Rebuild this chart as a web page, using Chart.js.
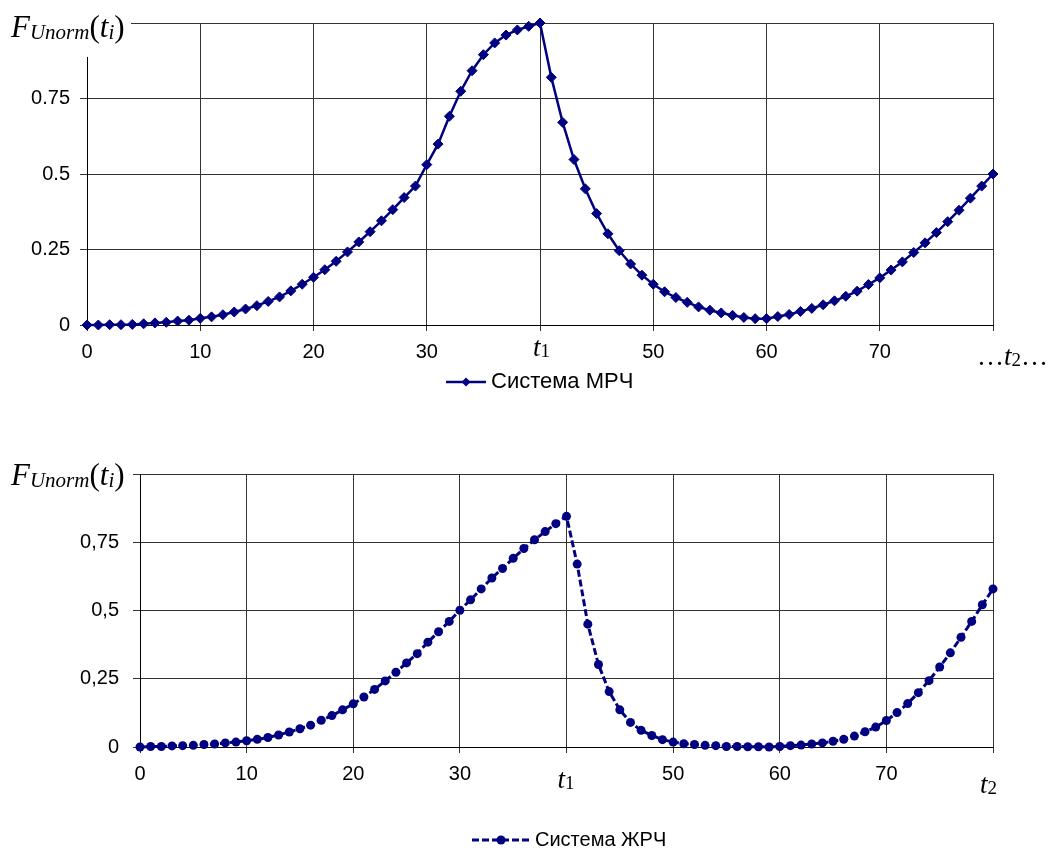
<!DOCTYPE html>
<html>
<head>
<meta charset="utf-8">
<script src="https://cdn.jsdelivr.net/npm/chart.js@4/dist/chart.umd.min.js"></script>
<style>
  body { margin: 0; background: #fff; }
  canvas { display: block; }
</style>
</head>
<body>
<canvas id="chartMrch" width="1054" height="425"></canvas>
<canvas id="chartZhrch" width="1054" height="425"></canvas>
<script>
// time steps (x categories)
const timeSteps = [
  0, 1, 2, 3, 4, 5, 6, 7, 8, 9, 10, 11, 12, 13, 14, 15, 16, 17, 18, 19, 20,
  21, 22, 23, 24, 25, 26, 27, 28, 29, 30, 31, 32, 33, 34, 35, 36, 37, 38, 39, 40,
  41, 42, 43, 44, 45, 46, 47, 48, 49, 50, 51, 52, 53, 54, 55, 56, 57, 58, 59, 60,
  61, 62, 63, 64, 65, 66, 67, 68, 69, 70, 71, 72, 73, 74, 75, 76, 77, 78, 79, 80
];

// Система МРЧ
const mrchValues = [
  0, 0, 0.001, 0.001, 0.002, 0.004, 0.007, 0.009, 0.013, 0.016, 0.022,
  0.027, 0.034, 0.043, 0.053, 0.064, 0.078, 0.093, 0.113, 0.135, 0.158,
  0.183, 0.211, 0.242, 0.275, 0.309, 0.345, 0.382, 0.422, 0.460, 0.531,
  0.599, 0.691, 0.774, 0.842, 0.895, 0.934, 0.960, 0.977, 0.989, 1.0,
  0.820, 0.671, 0.548, 0.451, 0.369, 0.302, 0.246, 0.202, 0.165, 0.135,
  0.110, 0.091, 0.075, 0.060, 0.049, 0.040, 0.032, 0.025, 0.021, 0.021,
  0.028, 0.035, 0.045, 0.055, 0.067, 0.080, 0.095, 0.112, 0.134, 0.156,
  0.182, 0.209, 0.240, 0.272, 0.306, 0.342, 0.380, 0.420, 0.460, 0.500
];

// Система ЖРЧ
const zhrchValues = [
  0, 0.002, 0.002, 0.004, 0.005, 0.006, 0.009, 0.011, 0.015, 0.018, 0.023,
  0.028, 0.035, 0.044, 0.055, 0.067, 0.080, 0.098, 0.115, 0.136, 0.158,
  0.183, 0.211, 0.242, 0.274, 0.308, 0.342, 0.384, 0.422, 0.460, 0.501,
  0.539, 0.579, 0.619, 0.654, 0.691, 0.727, 0.759, 0.789, 0.818, 0.845,
  0.670, 0.450, 0.302, 0.203, 0.136, 0.090, 0.061, 0.042, 0.027, 0.018,
  0.012, 0.009, 0.006, 0.005, 0.002, 0.002, 0.001, 0.001, 0, 0.002,
  0.005, 0.007, 0.011, 0.015, 0.021, 0.028, 0.040, 0.056, 0.073, 0.097,
  0.126, 0.159, 0.199, 0.243, 0.293, 0.345, 0.402, 0.460, 0.521, 0.579
];

// ticks
const xTicks = [0, 10, 20, 30, 40, 50, 60, 70, 80];
const xTickLabels = ['0', '10', '20', '30', '', '50', '60', '70', ''];
const yTicks = [0, 0.25, 0.5, 0.75, 1];
const yLabelsMrch = ['0', '0.25', '0.5', '0.75', ''];
const yLabelsZhrch = ['0', '0,25', '0,5', '0,75', ''];

const NAVY = '#000080';
const GRID = '#333333';
const SERIF = '"Liberation Serif", "Times New Roman", serif';
const SANS = '"Liberation Sans", Arial, sans-serif';

Chart.defaults.font.family = SANS;
Chart.defaults.font.size = 20;
Chart.defaults.color = '#000';

function toPoints(values) {
  return timeSteps.map((t, i) => ({ x: t, y: values[i] }));
}

// F_Unorm(t_i) label, drawn piece by piece
function drawFLabel(ctx, x, base) {
  const big = 'italic 31px ' + SERIF;
  const small = 'italic 21px ' + SERIF;
  const parts = [
    ['F', big, 0], ['Unorm', small, 2], ['(', '31px ' + SERIF, 0],
    ['t', big, 0], ['i', small, 2], [')', '31px ' + SERIF, 0]
  ];
  ctx.fillStyle = '#000';
  ctx.textBaseline = 'alphabetic';
  ctx.textAlign = 'left';
  parts.forEach(([txt, font, dy]) => {
    ctx.font = font;
    ctx.fillText(txt, x, base + dy);
    x += ctx.measureText(txt).width;
  });
}

// t with subscript
function drawT(ctx, x, base, sub, pre, post) {
  ctx.fillStyle = '#000';
  ctx.textBaseline = 'alphabetic';
  ctx.textAlign = 'left';
  if (pre) {
    ctx.font = '27px ' + SERIF;
    ctx.fillText(pre, x, base);
    x += ctx.measureText(pre).width;
  }
  ctx.font = 'italic 27px ' + SERIF;
  ctx.fillText('t', x, base);
  x += ctx.measureText('t').width;
  ctx.font = '19px ' + SERIF;
  ctx.fillText(sub, x, base + 1);
  x += ctx.measureText(sub).width;
  if (post) {
    ctx.font = '27px ' + SERIF;
    ctx.fillText(post, x, base);
  }
}

function makeOptions(yLabels, leftWidth, topPad, bottomPad, yTickPad) {
  return {
    responsive: false,
    animation: false,
    devicePixelRatio: 1,
    layout: { padding: { left: 0, right: 61, top: topPad, bottom: bottomPad } },
    plugins: { legend: { display: false }, tooltip: { enabled: false } },
    scales: {
      x: {
        type: 'linear',
        min: 0,
        max: 80,
        afterFit: (s) => { s.height = 40; },
        afterBuildTicks: (s) => { s.ticks = xTicks.map(v => ({ value: v })); },
        ticks: {
          padding: 9,
          maxRotation: 0,
          autoSkip: false,
          callback: (v) => xTickLabels[xTicks.indexOf(v)] ?? ''
        },
        grid: { color: GRID, lineWidth: 1, tickLength: 6, drawTicks: true },
        border: { color: '#000', width: 1 }
      },
      y: {
        min: 0,
        max: 1,
        afterFit: (s) => { s.width = leftWidth; },
        afterBuildTicks: (s) => { s.ticks = yTicks.map(v => ({ value: v })); },
        ticks: {
          padding: yTickPad,
          callback: (v) => yLabels[yTicks.indexOf(v)] ?? ''
        },
        grid: { color: GRID, lineWidth: 1, tickLength: 7, drawTicks: true },
        border: { color: '#000', width: 1 }
      }
    }
  };
}

const topExtras = {
  id: 'topExtras',
  afterDraw(chart) {
    const ctx = chart.ctx;
    const xs = chart.scales.x;
    ctx.save();
    // label box over the corner
    ctx.fillStyle = '#fff';
    ctx.fillRect(0, 0, 131, 57);
    drawFLabel(ctx, 11, 37);
    drawT(ctx, xs.getPixelForValue(40) - 7, 356, '1');
    drawT(ctx, 977, 365, '2', '\u2026', '\u2026');
    // legend
    ctx.strokeStyle = NAVY;
    ctx.lineWidth = 2.5;
    ctx.beginPath();
    ctx.moveTo(446, 382);
    ctx.lineTo(486, 382);
    ctx.stroke();
    ctx.fillStyle = NAVY;
    ctx.beginPath();
    ctx.moveTo(466, 377.5); ctx.lineTo(470.5, 382); ctx.lineTo(466, 386.5); ctx.lineTo(461.5, 382);
    ctx.closePath();
    ctx.fill();
    ctx.fillStyle = '#000';
    ctx.font = '22px ' + SANS;
    ctx.textBaseline = 'middle';
    ctx.fillText('Система МРЧ', 491, 382);
    ctx.restore();
  }
};

const bottomExtras = {
  id: 'bottomExtras',
  afterDraw(chart) {
    const ctx = chart.ctx;
    const xs = chart.scales.x;
    ctx.save();
    drawFLabel(ctx, 11, 60);
    drawT(ctx, xs.getPixelForValue(40) - 9, 363, '1');
    drawT(ctx, xs.getPixelForValue(80) - 13, 368, '2');
    // legend
    ctx.strokeStyle = NAVY;
    ctx.lineWidth = 3;
    ctx.setLineDash([7, 3]);
    ctx.beginPath();
    ctx.moveTo(472, 415);
    ctx.lineTo(530, 415);
    ctx.stroke();
    ctx.setLineDash([]);
    ctx.fillStyle = NAVY;
    ctx.beginPath();
    ctx.arc(501, 415, 4.5, 0, Math.PI * 2);
    ctx.fill();
    ctx.fillStyle = '#000';
    ctx.font = '20px ' + SANS;
    ctx.textBaseline = 'middle';
    ctx.fillText('Система ЖРЧ', 535, 415);
    ctx.restore();
  }
};

new Chart(document.getElementById('chartMrch'), {
  type: 'line',
  data: {
    datasets: [{
      label: 'Система МРЧ',
      data: toPoints(mrchValues),
      borderColor: NAVY,
      backgroundColor: NAVY,
      borderWidth: 2.5,
      tension: 0,
      pointStyle: 'rectRot',
      pointRadius: 5,
      pointBorderWidth: 1,
      clip: false
    }]
  },
  options: makeOptions(yLabelsMrch, 87, 23, 60, 10),
  plugins: [topExtras]
});

new Chart(document.getElementById('chartZhrch'), {
  type: 'line',
  data: {
    datasets: [{
      label: 'Система ЖРЧ',
      data: toPoints(zhrchValues),
      borderColor: NAVY,
      backgroundColor: NAVY,
      borderWidth: 3,
      borderDash: [7, 3],
      tension: 0,
      pointStyle: 'circle',
      pointRadius: 4.5,
      pointBorderWidth: 0,
      clip: false
    }]
  },
  options: makeOptions(yLabelsZhrch, 140, 49, 63, 14),
  plugins: [bottomExtras]
});
</script>
</body>
</html>
